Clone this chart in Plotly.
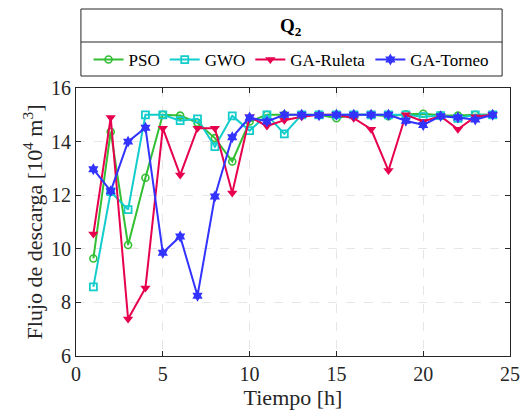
import plotly.graph_objects as go

hours = list(range(1, 25))
pso = [9.64, 14.37, 10.14, 12.65, 15.0, 14.97, 14.7, 14.13, 13.26, 14.75, 15.0, 15.0,
       15.0, 15.0, 14.87, 15.0, 15.0, 14.95, 15.02, 15.04, 14.98, 14.97, 15.0, 15.0]
gwo = [8.58, 12.13, 11.46, 15.0, 15.0, 14.78, 14.85, 13.81, 14.96, 14.41, 15.0, 14.29,
       15.0, 15.0, 15.0, 15.0, 15.0, 15.0, 15.0, 14.93, 14.97, 14.87, 15.0, 15.0]
ruleta = [10.55, 14.9, 7.38, 8.54, 14.5, 12.75, 14.5, 14.5, 12.08, 14.93, 14.58, 14.8,
          14.93, 15.0, 15.0, 14.87, 14.46, 12.92, 15.0, 14.75, 14.95, 14.46, 14.93, 15.0]
torneo = [12.97, 12.15, 14.0, 14.52, 9.85, 10.46, 8.25, 11.95, 14.16, 14.9, 14.75, 15.0,
          15.0, 14.98, 15.0, 15.0, 15.0, 15.0, 14.78, 14.62, 14.95, 14.9, 14.82, 15.0]

series = [
    ("PSO", pso, "#33bf33", dict(symbol="circle-open", size=7, line=dict(width=1.6))),
    ("GWO", gwo, "#13cccc", dict(symbol="square-open", size=7, line=dict(width=1.8))),
    ("GA-Ruleta", ruleta, "#e6004d", dict(symbol="triangle-down", size=9)),
    ("GA-Torneo", torneo, "#3333ff", dict(symbol="hexagram", size=9)),
]

FONT = "Liberation Serif"
fig = go.Figure()
for name, ys, col, mk in series:
    mk = dict(mk)
    mk["color"] = col
    if "line" in mk:
        mk["line"]["color"] = col
    fig.add_trace(go.Scatter(x=hours, y=ys, name=name, mode="lines+markers",
                             line=dict(color=col, width=2), marker=mk))

W, H = 532, 417
L, R, T, B = 76, 16, 88, 61
pw, ph = W - L - R, H - T - B

def px2x(px):
    return (px - L) / pw

def py2y(py):
    return (H - B - py) / ph

axis_common = dict(
    showline=True, linecolor="#262626", linewidth=1, mirror="allticks",
    ticks="inside", ticklen=5, tickcolor="#262626",
    showgrid=True, gridcolor="#e6e6e6", griddash="dash", gridwidth=1,
    zeroline=False, tickfont=dict(family=FONT, size=20, color="#262626"),
)

fig.update_layout(
    width=W, height=H, margin=dict(l=L, r=R, t=T, b=B),
    paper_bgcolor="white", plot_bgcolor="white",
    font=dict(family=FONT, color="#262626"),
    xaxis=dict(range=[0, 25], tickvals=[0, 5, 10, 15, 20, 25],
               title=dict(text="Tiempo [h]", font=dict(family=FONT, size=22), standoff=2),
               **axis_common),
    yaxis=dict(range=[6, 16], tickvals=[6, 8, 10, 12, 14, 16],
               title=dict(text="Flujo de descarga [10<sup>4</sup> m<sup>3</sup>]",
                          font=dict(family=FONT, size=22), standoff=2),
               **axis_common),
    showlegend=True,
    legend=dict(orientation="h", x=px2x(294), xanchor="center", y=py2y(60), yanchor="middle",
                font=dict(family=FONT, size=17, color="#000"), bgcolor="rgba(0,0,0,0)",
                itemwidth=30, tracegroupgap=0),
    shapes=[
        dict(type="rect", xref="paper", yref="paper", x0=px2x(81), x1=px2x(508),
             y0=py2y(76), y1=py2y(9), line=dict(color="#262626", width=1), fillcolor="white",
             layer="below"),
        dict(type="line", xref="paper", yref="paper", x0=px2x(81), x1=px2x(508),
             y0=py2y(42), y1=py2y(42), line=dict(color="#262626", width=1)),
    ],
    annotations=[
        dict(text="<b>Q<sub>2</sub></b>", xref="paper", yref="paper", x=px2x(294), y=py2y(27),
             showarrow=False, font=dict(family=FONT, size=19, color="#000"),
             xanchor="center", yanchor="middle"),
    ],
)

fig.write_html("out.html")
